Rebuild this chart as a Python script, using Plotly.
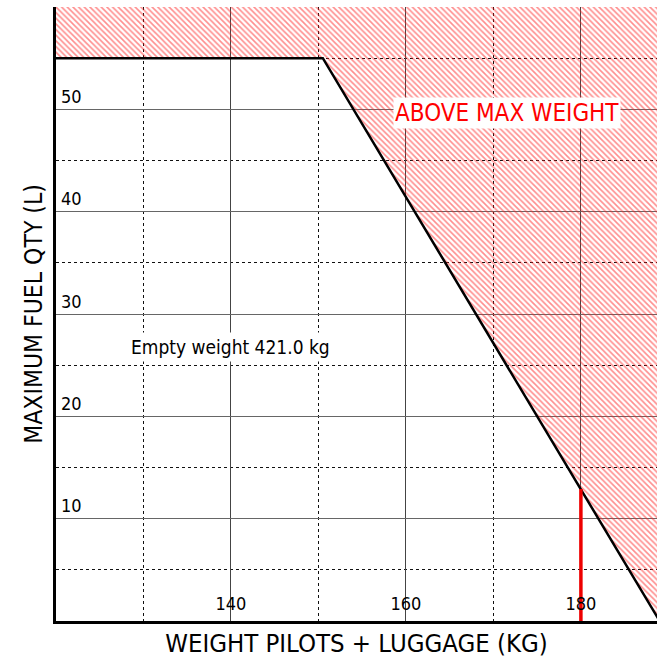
import plotly.graph_objects as go

# --- data ---
limit_weight = [120, 150.5, 189]          # kg (pilots + luggage)
limit_fuel = [55, 55, 0]                  # L max fuel
hatch_weight = [120, 150.5, 189, 189, 120]
hatch_fuel = [55, 55, 0, 60, 60]
current_weight = [180, 180]
current_fuel = [0, 12.9]
x_ticks = [140, 160, 180]
x_labels = ["140", "160", "180"]
y_ticks = [10, 20, 30, 40, 50, 60]
y_labels = ["10", "20", "30", "40", "50", ""]

FONT = "Tahoma, 'DejaVu Sans Condensed', 'DejaVu Sans', sans-serif"

fig = go.Figure()

fig.add_trace(go.Scatter(
    x=hatch_weight, y=hatch_fuel, mode="lines", fill="toself",
    line=dict(width=0, color="rgba(0,0,0,0)"),
    fillcolor="rgba(0,0,0,0)",
    fillpattern=dict(shape="\\", size=4, solidity=0.4,
                     fgcolor="rgba(255,30,30,1)", bgcolor="rgba(0,0,0,0)"),
    hoverinfo="skip", showlegend=False))

fig.add_trace(go.Scatter(
    x=limit_weight, y=limit_fuel, mode="lines",
    line=dict(color="black", width=2.5), showlegend=False))

fig.add_trace(go.Scatter(
    x=current_weight, y=current_fuel, mode="lines",
    line=dict(color="#ee0000", width=3.5), showlegend=False))

fig.add_annotation(x=171.5, y=49.6, text="ABOVE MAX WEIGHT", showarrow=False,
                   font=dict(family=FONT, size=24, color="#ff0000"),
                   bgcolor="white", borderpad=1)
fig.add_annotation(x=140, y=26.8, text="Empty weight 421.0 kg", showarrow=False,
                   font=dict(family=FONT, size=19, color="black"),
                   bgcolor="white", borderpad=3)

fig.update_layout(
    width=657, height=661,
    margin=dict(l=56, r=0, t=7, b=40, autoexpand=False),
    plot_bgcolor="white", paper_bgcolor="white",
    font=dict(family=FONT, color="black"),
    showlegend=False,
)

fig.update_xaxes(
    range=[120, 188.7], tickmode="array", tickvals=x_ticks, ticktext=x_labels,
    ticklabelposition="inside", ticks="", tickfont=dict(size=18, color="black"),
    ticklabelstandoff=8,
    showgrid=True, gridcolor="#444", gridwidth=1,
    minor=dict(dtick=10, tick0=120, showgrid=True, gridcolor="#111",
               griddash="dot", gridwidth=1),
    showline=True, linecolor="black", linewidth=3, zeroline=False,
    automargin=False,
    title=dict(text="WEIGHT PILOTS + LUGGAGE (KG)", font=dict(size=25.5, color="black"), standoff=22),
)
fig.update_yaxes(
    range=[0, 60], tickmode="array", tickvals=y_ticks, ticktext=y_labels,
    ticklabelposition="inside top", ticks="", tickfont=dict(size=18, color="black"),
    ticklabelstandoff=4,
    showgrid=True, gridcolor="#666", gridwidth=1,
    minor=dict(dtick=5, tick0=0, showgrid=True, gridcolor="#111",
               griddash="dot", gridwidth=1),
    showline=True, linecolor="black", linewidth=3, zeroline=False,
    automargin=False,
    title=dict(text="MAXIMUM FUEL QTY (L)", font=dict(size=24.5, color="black"), standoff=12),
)

fig.write_html("out.html", config={"displayModeBar": False},
               post_script="document.body.style.margin='0px';")
